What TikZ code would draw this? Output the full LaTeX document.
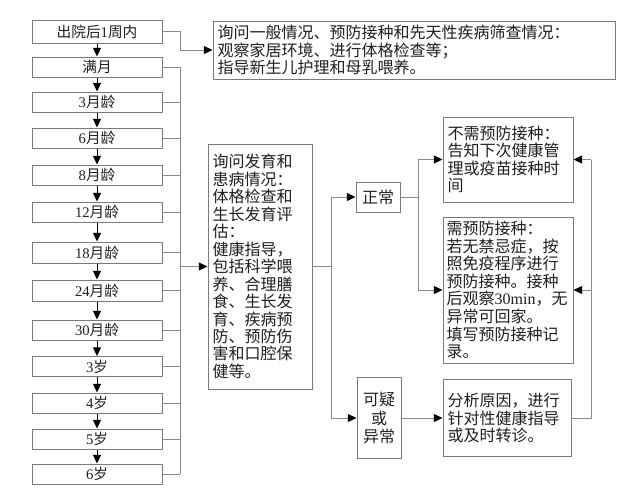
\documentclass[tikz,border=0pt]{standalone}
\usepackage{fontspec}
\setmainfont{Noto Sans CJK SC}
\newfontfamily\lat{Liberation Serif}
\usetikzlibrary{arrows.meta}
\definecolor{boxgray}{HTML}{7A7A7A}
\definecolor{linegray}{HTML}{8A8A8A}
\definecolor{txt}{HTML}{1E1E1E}
\begin{document}
\begin{tikzpicture}[x=0.75pt,y=-0.75pt,
  box/.style={draw=boxgray,line width=0.75pt,inner sep=0pt,text=txt},
  lbox/.style={box,minimum width=97.5pt,minimum height=15pt,align=center,font=\fontsize{11}{13}\selectfont},
  tbox/.style={box,align=left,inner xsep=3.5pt,font=\fontsize{12}{13.2}\selectfont},
  cbox/.style={box,align=center,font=\fontsize{12}{13.7}\selectfont},
  conn/.style={draw=linegray,line width=0.75pt},
  arr/.style={conn,-{Triangle[length=6.5pt,width=6pt,color=black]}},
  varr/.style={draw=black,line width=0.75pt,-{Triangle[length=6.5pt,width=6pt,color=black]}},
]
\useasboundingbox (0,0) rectangle (630,494);
% left column
\node[lbox,minimum height=17.25pt] (b0) at (97,31.5) {出院后{\lat 1}周内};
\node[lbox] (b1) at (97,67) {满月};
\node[lbox] (b2) at (97,102) {{\lat 3}月龄};
\node[lbox] (b3) at (97,138) {{\lat 6}月龄};
\node[lbox] (b4) at (97,175) {{\lat 8}月龄};
\node[lbox] (b5) at (97,212) {{\lat 12}月龄};
\node[lbox,minimum height=15.75pt] (b6) at (97,252.5) {{\lat 18}月龄};
\node[lbox,minimum height=15.75pt] (b7) at (97,290.5) {{\lat 24}月龄};
\node[lbox] (b8) at (97,330) {{\lat 30}月龄};
\node[lbox] (b9) at (97,366.5) {{\lat 3}岁};
\node[lbox] (b10) at (97,403) {{\lat 4}岁};
\node[lbox] (b11) at (97,439) {{\lat 5}岁};
\node[lbox] (b12) at (97,474) {{\lat 6}岁};
\foreach \a/\b in {b0/b1,b1/b2,b2/b3,b3/b4,b4/b5,b5/b6,b6/b7,b7/b8,b8/b9,b9/b10,b10/b11,b11/b12}
  \draw[varr] (\a.south) -- (\b.north);
% top right box
\node[tbox,text width=294.5pt,minimum height=43.5pt] (t0) at (414,50)
  {询问一般情况、预防接种和先天性疾病筛查情况：\\观察家居环境、进行体格检查等；\\指导新生儿护理和母乳喂养。};
% middle box
\node[tbox,text width=71pt,minimum height=183.75pt,font=\fontsize{12}{13.1}\selectfont] (m) at (260,266.5)
  {询问发育和\\患病情况：\\体格检查和\\生长发育评\\估：\\健康指导，\\包括科学喂\\养、合理膳\\食、生长发\\育、疾病预\\防、预防伤\\害和口腔保\\健等。};
% decision boxes
\node[cbox,minimum width=33pt,minimum height=22.5pt] (n) at (378,197) {正常};
\node[cbox,minimum width=33pt,minimum height=60.75pt] (q) at (379,418) {可疑\\或\\异常};
% right boxes
\node[tbox,text width=90.5pt,minimum height=63.75pt] (r1) at (508,159.5)
  {不需预防接种：\\告知下次健康管\\理或疫苗接种时\\间};
\node[tbox,inner xsep=2.75pt,text width=92pt,minimum height=109.5pt] (r2) at (508,290)
  {需预防接种：\\若无禁忌症，按\\照免疫程序进行\\预防接种。接种\\后观察{\lat 30min}，无\\异常可回家。\\填写预防接种记\\录。};
\node[tbox,text width=89pt,minimum height=57.75pt] (r3) at (507,418)
  {分析原因，进行\\针对性健康指导\\或及时转诊。};
% connectors
\coordinate (busL) at (180,0);
\draw[arr] (b0.east) -- (b0.east -| busL) |- (t0.west);
\foreach \b in {b1,b2,b3,b4,b5,b6,b7,b8,b9,b10,b11,b12}
  \draw[conn] (\b.east) -- (\b.east -| busL);
\draw[conn] (b1.east -| busL) -- (b12.east -| busL);
\draw[arr] (m.west -| busL) -- (m.west);
\coordinate (j1) at (331,266.5);
\draw[conn] (m.east) -- (j1);
\draw[arr] (j1) |- (n.west);
\draw[arr] (j1) |- (q.west);
\coordinate (j2) at (418,197);
\draw[conn] (n.east) -- (j2);
\draw[arr] (j2) |- (r1.west);
\draw[arr] (j2) |- (r2.west);
\draw[arr] (q.east) -- (r3.west);
\coordinate (j3) at (591,418);
\draw[conn] (r3.east) -- (j3) -- (j3 |- r1.east);
\draw[arr] (j3 |- r1.east) -- (r1.east);
\draw[arr] (j3 |- r2.east) -- (r2.east);
\end{tikzpicture}
\end{document}
